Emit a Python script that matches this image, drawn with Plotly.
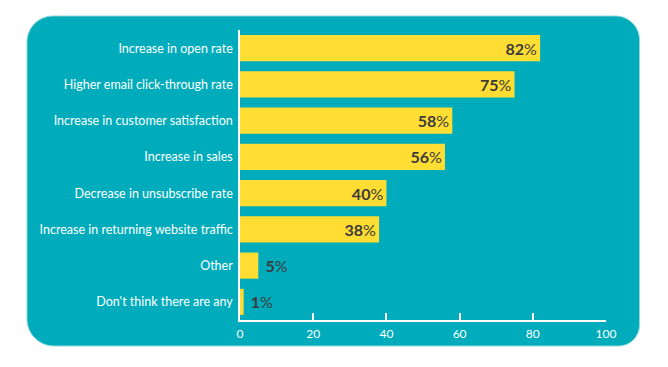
import plotly.graph_objects as go

# ---- data ----
categories = [
    "Increase in open rate",
    "Higher email click-through rate",
    "Increase in customer satisfaction",
    "Increase in sales",
    "Decrease in unsubscribe rate",
    "Increase in returning website traffic",
    "Other",
    "Don't think there are any",
]
values = [82, 75, 58, 56, 40, 38, 5, 1]
x_ticks = [0, 20, 40, 60, 80, 100]
x_tick_labels = ["0", "20", "40", "60", "80", "100"]

# ---- style ----
TEAL = "#00ACBB"
YELLOW = "#FFDD33"
DARK = "#3B3B3B"
W, H = 668, 367
ML, MR, MT, MB = 240, 62, 30, 47
PW, PH = W - ML - MR, H - MT - MB

positions = ["inside" if v >= 10 else "outside" for v in values]
labels = [
    (f"<b>{v}</b>%" if p == "inside" else f"&nbsp;<b>{v}</b>%")
    for v, p in zip(values, positions)
]

fig = go.Figure(
    go.Bar(
        x=values,
        y=categories,
        orientation="h",
        marker=dict(color=YELLOW, line=dict(width=0)),
        width=0.72,
        text=labels,
        textposition=positions,
        insidetextanchor="end",
        textfont=dict(family="Lato", size=16, color=DARK),
        constraintext="none",
        cliponaxis=False,
        hoverinfo="skip",
    )
)


def px_to_paper(px, py):
    return (px - ML) / PW, (H - MB - py) / PH


def rounded_rect(l, t, r, b, rtl, rtr, rbr, rbl):
    k = 0.5523

    def P(x, y):
        xp, yp = px_to_paper(x, y)
        return f"{xp:.5f},{yp:.5f}"

    d = f"M {P(l + rtl, t)} L {P(r - rtr, t)} "
    d += f"C {P(r - rtr + k * rtr, t)} {P(r, t + rtr - k * rtr)} {P(r, t + rtr)} "
    d += f"L {P(r, b - rbr)} "
    d += f"C {P(r, b - rbr + k * rbr)} {P(r - rbr + k * rbr, b)} {P(r - rbr, b)} "
    d += f"L {P(l + rbl, b)} "
    d += f"C {P(l + rbl - k * rbl, b)} {P(l, b - rbl + k * rbl)} {P(l, b - rbl)} "
    d += f"L {P(l, t + rtl)} "
    d += f"C {P(l, t + rtl - k * rtl)} {P(l + rtl - k * rtl, t)} {P(l + rtl, t)} Z"
    return d


fig.add_shape(
    type="path",
    path=rounded_rect(27, 16, 639.5, 346, 26, 24, 21, 27),
    xref="paper",
    yref="paper",
    fillcolor=TEAL,
    line=dict(color="#8FD8DE", width=1),
    layer="below",
)

fig.update_layout(
    width=W,
    height=H,
    margin=dict(l=ML, r=MR, t=MT, b=MB),
    paper_bgcolor="white",
    plot_bgcolor="rgba(0,0,0,0)",
    showlegend=False,
    bargap=0.28,
    font=dict(family="Lato", color="white"),
    xaxis=dict(
        range=[0, 100],
        tickvals=x_ticks,
        ticktext=x_tick_labels,
        ticks="inside",
        ticklen=7,
        tickwidth=1.5,
        tickcolor="white",
        showline=True,
        linecolor="white",
        linewidth=1.5,
        showgrid=False,
        zeroline=False,
        tickfont=dict(family="Lato", size=12, color="white"),
        ticklabelstandoff=2,
        fixedrange=True,
    ),
    yaxis=dict(
        categoryorder="array",
        categoryarray=categories,
        autorange="reversed",
        showline=True,
        linecolor="white",
        linewidth=1.5,
        ticks="",
        showgrid=False,
        zeroline=False,
        tickfont=dict(family="Lato", size=12.5, color="white"),
        ticklabelstandoff=3,
        fixedrange=True,
    ),
)

fig.write_html(
    "out.html",
    config={"displayModeBar": False},
    post_script="document.body.style.margin='0px';document.body.style.overflow='hidden';",
)
